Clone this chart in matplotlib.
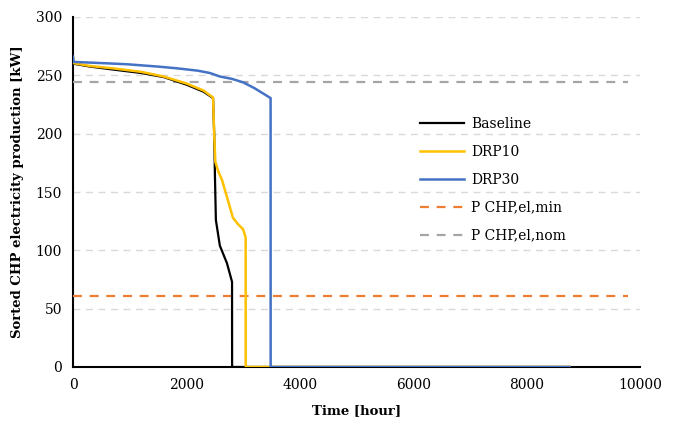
import matplotlib
matplotlib.use("Agg")
import matplotlib.pyplot as plt

# %% sorted CHP electricity production
hours_base = [0, 5, 300, 700, 1200, 1600, 2000, 2300, 2470, 2490, 2505, 2520, 2590, 2715, 2805, 2806, 8760]
baseline = [265, 260, 257.5, 255, 252, 248.5, 242, 236, 230.5, 200, 160, 126, 104, 89, 73, 0, 0]

hours_drp10 = [0, 5, 300, 700, 1200, 1600, 2000, 2300, 2470, 2490, 2510, 2560, 2630, 2720, 2820, 2900, 3000, 3045, 3046, 8760]
drp10 = [265, 260.5, 258, 256, 253, 249, 243, 237, 231, 200, 176, 168, 160, 145, 128, 123, 118, 111, 0, 0]

hours_drp30 = [0, 10, 500, 950, 1500, 1835, 2200, 2415, 2590, 2800, 3000, 3200, 3485, 3486, 8760]
drp30 = [266, 261.5, 260.5, 259.5, 257.5, 256, 254, 252, 249, 247, 244, 239, 230.5, 0, 0]

p_span = [0, 9790]
p_min = 61
p_nom = 244

xticks = [0, 2000, 4000, 6000, 8000, 10000]
yticks = [0, 50, 100, 150, 200, 250, 300]

# %%
plt.rcParams["font.family"] = ["DejaVu Serif"]

fig = plt.figure(figsize=(6.76, 4.24), dpi=100)
ax = fig.add_axes([73 / 676, 57 / 424, 567 / 676, 350 / 424])

for y in yticks[1:]:
    ax.axhline(y, color="#D9D9D9", lw=1, ls=(0, (5, 4)), zorder=0)

ax.plot(hours_base, baseline, color="black", lw=1.6, label="Baseline", zorder=3)
ax.plot(hours_drp10, drp10, color="#FFC000", lw=1.8, label="DRP10", zorder=4)
ax.plot(hours_drp30, drp30, color="#4472C4", lw=1.8, label="DRP30", zorder=5)
ax.plot(p_span, [p_min, p_min], color="#ED7D31", lw=1.6, ls=(0, (4, 3.5)), label="P CHP,el,min", zorder=2)
ax.plot(p_span, [p_nom, p_nom], color="#A5A5A5", lw=1.6, ls=(0, (4, 3.5)), label="P CHP,el,nom", zorder=2)

ax.set_xlim(0, 10000)
ax.set_ylim(0, 300)
ax.set_xticks(xticks)
ax.set_yticks(yticks)
ax.tick_params(length=0, labelsize=10, pad=8)
for s in ["top", "right"]:
    ax.spines[s].set_visible(False)
for s in ["left", "bottom"]:
    ax.spines[s].set_linewidth(1.5)
    ax.spines[s].set_zorder(1)

ax.set_xlabel("Time [hour]", fontsize=9.5, fontweight="bold", labelpad=9)
ax.set_ylabel("Sorted CHP electricity production [kW]", fontsize=9.5, fontweight="bold", labelpad=8)

leg = ax.legend(loc="center left", bbox_to_anchor=(0.59, 0.535), frameon=False,
                fontsize=10, handlelength=3.2, labelspacing=1.0, handletextpad=0.5)

fig.savefig("out.png", dpi=100)
